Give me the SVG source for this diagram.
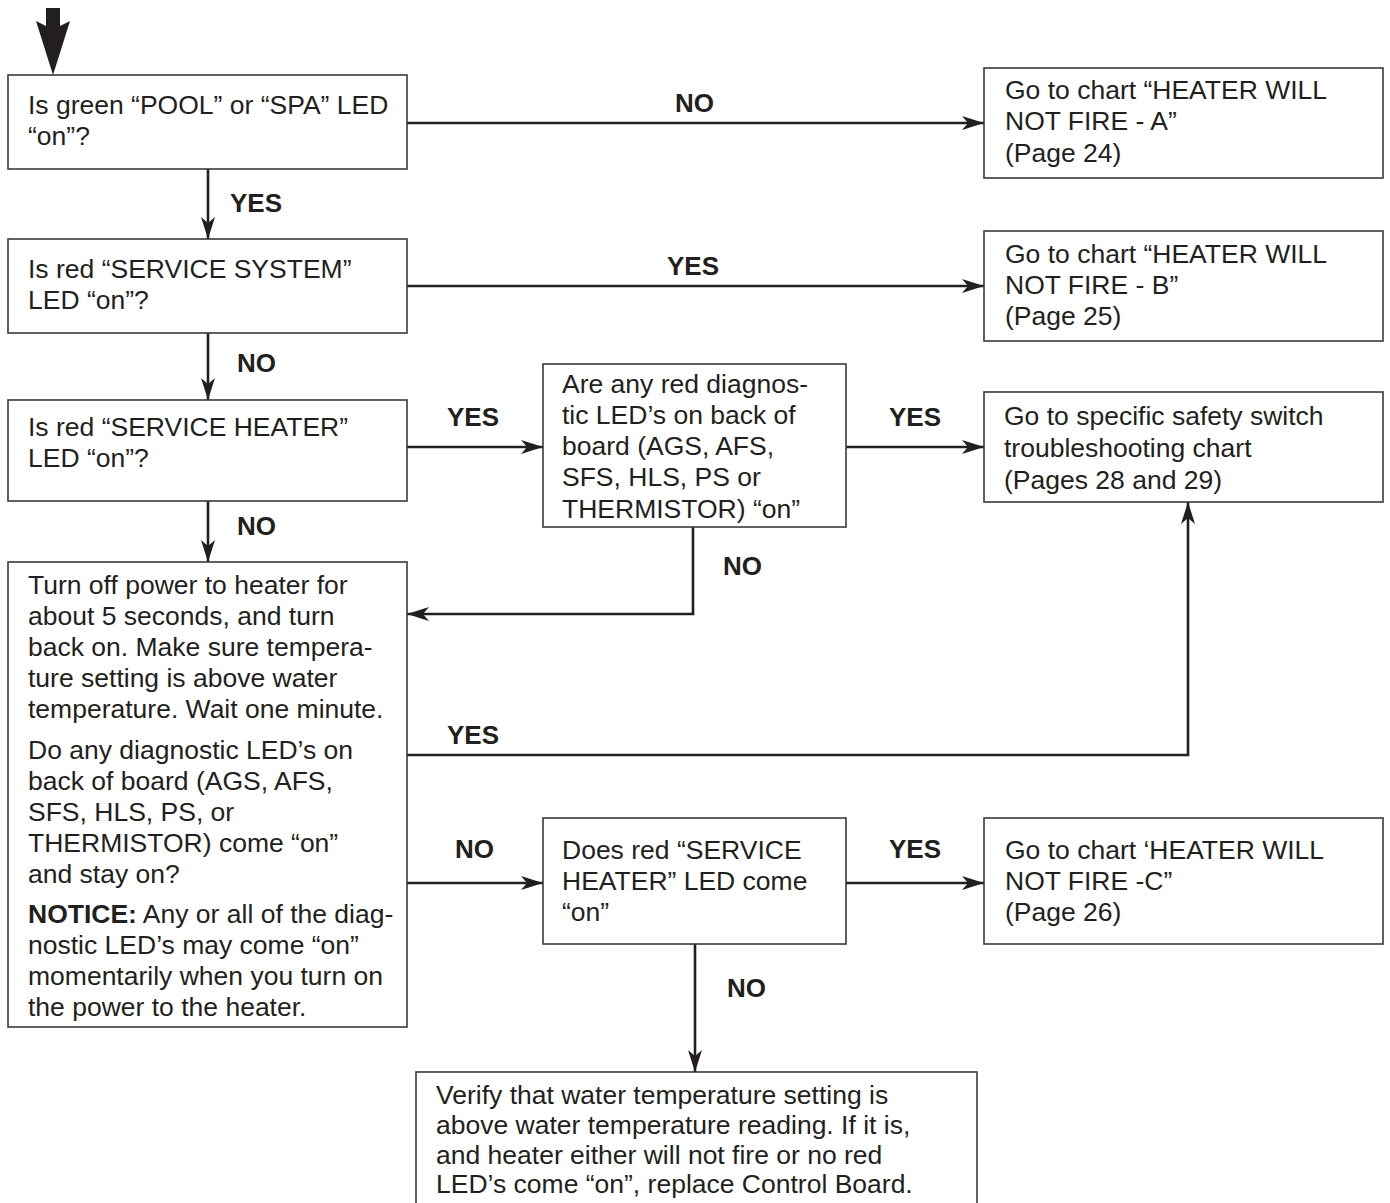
<svg xmlns="http://www.w3.org/2000/svg" width="1390" height="1203" viewBox="0 0 1390 1203">
<style>
.box{fill:#fff;stroke:#3a3a3a;stroke-width:1.6}
.t{font-family:"Liberation Sans",Arial,Helvetica,sans-serif;font-size:26.5px;fill:#231f20}
.lbl{font-family:"Liberation Sans",Arial,Helvetica,sans-serif;font-size:26px;font-weight:bold;fill:#231f20}
.b{font-weight:bold}
.c{fill:none;stroke:#231f20;stroke-width:2.6}
</style>
<defs>
<marker id="ah" markerUnits="userSpaceOnUse" viewBox="0 0 22 14" refX="22" refY="7" markerWidth="22" markerHeight="14" orient="auto">
<path d="M0,0 L22,7 L0,14 L6,7 Z" fill="#231f20"/>
</marker>
</defs>
<rect width="1390" height="1203" fill="#fff"/>

<g id="connectors">
<path d="M46,8 H60 V26 L70,21 L53,75 L36,21 L46,26 Z" fill="#231f20"/>
<line class="c" x1="208" y1="169" x2="208" y2="239" marker-end="url(#ah)"/>
<line class="c" x1="407" y1="123" x2="984" y2="123" marker-end="url(#ah)"/>
<line class="c" x1="407" y1="286" x2="984" y2="286" marker-end="url(#ah)"/>
<line class="c" x1="208" y1="333" x2="208" y2="400" marker-end="url(#ah)"/>
<line class="c" x1="407" y1="447" x2="543" y2="447" marker-end="url(#ah)"/>
<line class="c" x1="846" y1="447" x2="984" y2="447" marker-end="url(#ah)"/>
<line class="c" x1="208" y1="501" x2="208" y2="562" marker-end="url(#ah)"/>
<polyline class="c" points="693,527 693,614 407,614" marker-end="url(#ah)"/>
<polyline class="c" points="407,755 1188,755 1188,502" marker-end="url(#ah)"/>
<line class="c" x1="407" y1="883" x2="543" y2="883" marker-end="url(#ah)"/>
<line class="c" x1="846" y1="883" x2="984" y2="883" marker-end="url(#ah)"/>
<line class="c" x1="695" y1="944" x2="695" y2="1072" marker-end="url(#ah)"/>
<text class="lbl" x="230" y="212">YES</text>
<text class="lbl" x="675" y="112">NO</text>
<text class="lbl" x="667" y="275">YES</text>
<text class="lbl" x="237" y="372">NO</text>
<text class="lbl" x="447" y="426">YES</text>
<text class="lbl" x="889" y="426">YES</text>
<text class="lbl" x="237" y="535">NO</text>
<text class="lbl" x="723" y="575">NO</text>
<text class="lbl" x="447" y="744">YES</text>
<text class="lbl" x="455" y="858">NO</text>
<text class="lbl" x="889" y="858">YES</text>
<text class="lbl" x="727" y="997">NO</text>
</g>

<g id="n1">
<rect class="box" x="8" y="75" width="399" height="94"/>
<text class="t" x="28" y="114">Is green “POOL” or “SPA” LED</text>
<text class="t" x="28" y="145">“on”?</text>
</g>

<g id="n2">
<rect class="box" x="8" y="239" width="399" height="94"/>
<text class="t" x="28" y="278">Is red “SERVICE SYSTEM”</text>
<text class="t" x="28" y="309">LED “on”?</text>
</g>

<g id="n3">
<rect class="box" x="8" y="400" width="399" height="101"/>
<text class="t" x="28" y="436">Is red “SERVICE HEATER”</text>
<text class="t" x="28" y="467">LED “on”?</text>
</g>

<g id="n4">
<rect class="box" x="8" y="562" width="399" height="465"/>
<text class="t" x="28" y="594">Turn off power to heater for</text>
<text class="t" x="28" y="625">about 5 seconds, and turn</text>
<text class="t" x="28" y="656">back on. Make sure tempera-</text>
<text class="t" x="28" y="687">ture setting is above water</text>
<text class="t" x="28" y="718">temperature. Wait one minute.</text>
<text class="t" x="28" y="759">Do any diagnostic LED’s on</text>
<text class="t" x="28" y="790">back of board (AGS, AFS,</text>
<text class="t" x="28" y="821">SFS, HLS, PS, or</text>
<text class="t" x="28" y="852">THERMISTOR) come “on”</text>
<text class="t" x="28" y="883">and stay on?</text>
<text class="t" x="28" y="923"><tspan class="b">NOTICE:</tspan> Any or all of the diag-</text>
<text class="t" x="28" y="954">nostic LED’s may come “on”</text>
<text class="t" x="28" y="985">momentarily when you turn on</text>
<text class="t" x="28" y="1016">the power to the heater.</text>
</g>

<g id="nA">
<rect class="box" x="984" y="68" width="399" height="110"/>
<text class="t" x="1005" y="99">Go to chart “HEATER WILL</text>
<text class="t" x="1005" y="130">NOT FIRE - A”</text>
<text class="t" x="1005" y="162">(Page 24)</text>
</g>

<g id="nB">
<rect class="box" x="984" y="231" width="399" height="110"/>
<text class="t" x="1005" y="263">Go to chart “HEATER WILL</text>
<text class="t" x="1005" y="294">NOT FIRE - B”</text>
<text class="t" x="1005" y="325">(Page 25)</text>
</g>

<g id="nLED">
<rect class="box" x="543" y="364" width="303" height="163"/>
<text class="t" x="562" y="393">Are any red diagnos-</text>
<text class="t" x="562" y="424">tic LED’s on back of</text>
<text class="t" x="562" y="455">board (AGS, AFS,</text>
<text class="t" x="562" y="486">SFS, HLS, PS or</text>
<text class="t" x="562" y="518">THERMISTOR) “on”</text>
</g>

<g id="nSafety">
<rect class="box" x="984" y="392" width="399" height="110"/>
<text class="t" x="1004" y="425">Go to specific safety switch</text>
<text class="t" x="1004" y="457">troubleshooting chart</text>
<text class="t" x="1004" y="489">(Pages 28 and 29)</text>
</g>

<g id="nDoes">
<rect class="box" x="543" y="818" width="303" height="126"/>
<text class="t" x="562" y="859">Does red “SERVICE</text>
<text class="t" x="562" y="890">HEATER” LED come</text>
<text class="t" x="562" y="921">“on”</text>
</g>

<g id="nC">
<rect class="box" x="984" y="818" width="399" height="126"/>
<text class="t" x="1005" y="859">Go to chart ‘HEATER WILL</text>
<text class="t" x="1005" y="890">NOT FIRE -C”</text>
<text class="t" x="1005" y="921">(Page 26)</text>
</g>

<g id="nVerify">
<rect class="box" x="416" y="1072" width="561" height="150"/>
<text class="t" x="436" y="1104">Verify that water temperature setting is</text>
<text class="t" x="436" y="1134">above water temperature reading. If it is,</text>
<text class="t" x="436" y="1164">and heater either will not fire or no red</text>
<text class="t" x="436" y="1193">LED’s come “on”, replace Control Board.</text>
</g>
</svg>
